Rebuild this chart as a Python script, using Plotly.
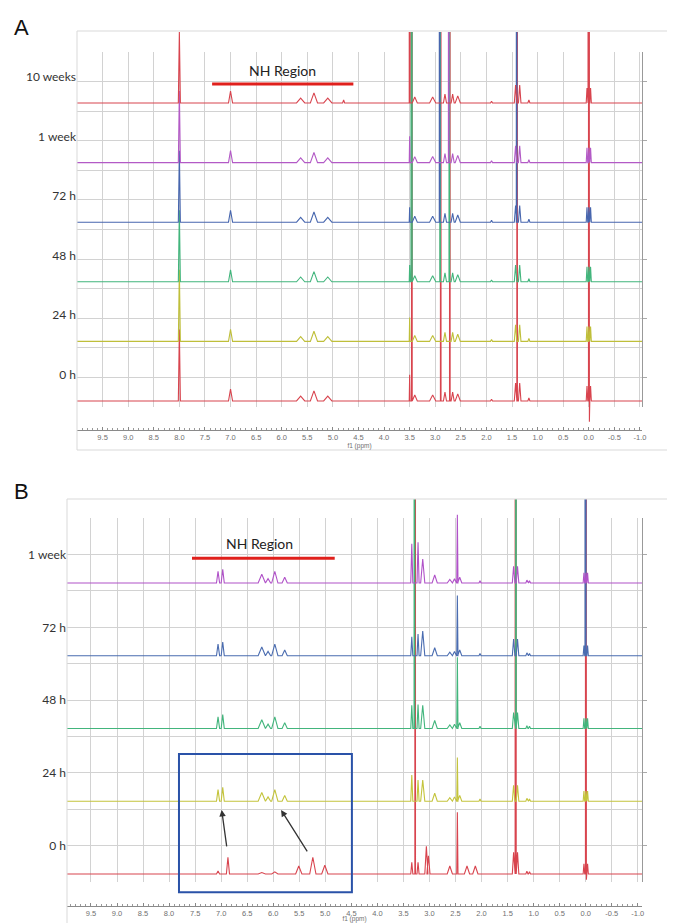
import plotly.graph_objects as go

# The page places the figure 8 px from the top-left corner (default body margin),
# so the figure is 8 px smaller and all layout pixel positions are offset by 8.
PAGE_OFF = 8
W, H = 675 - PAGE_OFF, 923 - PAGE_OFF
OFF = 5000  # off-scale (clipped) peak

# ---------------- Panel A data ----------------
A_LABELS = ["0 h", "24 h", "48 h", "72 h", "1 week", "10 weeks"]
A_COLORS = ["#d8444e", "#bfbf3a", "#42b57c", "#4766ae", "#b35ac6", "#d8444e"]
A_PPM = [8.00, 7.00, 5.63, 5.37, 5.10, 4.79, 3.50, 3.468, 3.458, 3.40, 3.05,
         2.915, 2.905, 2.893, 2.81, 2.737, 2.725, 2.715, 2.66, 2.56, 1.90,
         1.43, 1.41, 1.40, 1.35, 1.17, 0.035, 0.008, 0.0, -0.012, -0.035]
A_HALFWIDTH = [0.02, 0.04, 0.08, 0.07, 0.08, 0.02, 0.008, 0.006, 0.006, 0.05, 0.06,
               0.006, 0.006, 0.006, 0.03, 0.006, 0.006, 0.006, 0.03, 0.05, 0.02,
               0.025, 0.006, 0.006, 0.025, 0.02, 0.015, 0.006, 0.006, 0.008, 0.015]
A_0H = [120, 20, 8, 17, 8, 0, 44, 0, OFF, 10, 10, 0, 0, OFF, 15, 0, 0, OFF, 15, 12, 3,
        30, 0, OFF, 30, 5, 25, 0, OFF, -35, 25]
A_24H = [120, 20, 8, 17, 8, 0, 40, 0, 0, 10, 10, 0, 0, 0, 15, 0, 0, 0, 15, 12, 3,
         28, 0, 0, 28, 5, 25, 0, 25, 0, 25]
A_48H = [120, 20, 8, 17, 8, 0, 28, OFF, 0, 10, 10, 0, OFF, 0, 15, 0, OFF, 0, 15, 12, 3,
         28, 0, 0, 28, 5, 25, 0, 25, 0, 25]
A_72H = [120, 20, 8, 17, 8, 0, 25, 0, 0, 10, 10, OFF, 0, 0, 15, 0, 0, 0, 15, 12, 3,
         28, OFF, 0, 28, 5, 25, 0, 25, 0, 25]
A_1WK = [120, 20, 8, 17, 8, 0, 44, 0, 0, 10, 10, 0, 0, 0, 15, OFF, 0, 0, 15, 12, 3,
         28, 0, 0, 28, 5, 25, 0, 25, 0, 25]
A_10WK = [120, 20, 8, 17, 8, 5, OFF, 0, 0, 10, 10, 0, 0, 0, 15, 0, 0, 0, 15, 12, 3,
          30, 0, 0, 30, 5, 25, OFF, 25, 0, 25]
A_SPECTRA = [A_0H, A_24H, A_48H, A_72H, A_1WK, A_10WK]
A_LABEL_LIFT = 44
A_NH_REGION = (7.36, 4.60)

# ---------------- Panel B data ----------------
B_LABELS = ["0 h", "24 h", "48 h", "72 h", "1 week"]
B_COLORS = ["#d8444e", "#c4c43c", "#42b57c", "#4a6cb0", "#b052c8"]
B_PPM = [7.06, 6.97, 6.87, 6.22, 6.10, 5.97, 5.78, 5.51, 5.24, 5.01,
         3.34, 3.29, 3.275, 3.22, 3.13, 3.06, 3.02, 2.90, 2.61, 2.52, 2.465, 2.42,
         2.28, 2.12, 2.03, 1.385, 1.35, 1.34, 1.31, 1.13, 1.08,
         0.035, 0.008, 0.0, -0.012, -0.035]
B_HALFWIDTH = [0.03, 0.03, 0.03, 0.07, 0.05, 0.06, 0.05, 0.06, 0.06, 0.06,
               0.02, 0.006, 0.006, 0.02, 0.04, 0.03, 0.03, 0.05, 0.05, 0.04, 0.012, 0.04,
               0.05, 0.05, 0.02, 0.025, 0.006, 0.006, 0.025, 0.02, 0.02,
               0.015, 0.006, 0.006, 0.008, 0.015]
B_0H = [4, 0, 23, 2, 0, 3, 0, 11, 23, 12,
        16, 0, OFF, 16, 0, 38, 25, 0, 11, 0, 85, 0,
        11, 11, 0, 30, OFF, 0, 30, 4, 3,
        14, 0, OFF, -8, 14]
B_24H = [16, 19, 0, 12, 6, 16, 8, 0, 0, 0,
         36, 0, 0, 29, 29, 0, 0, 11, 5, 6, 60, 8,
         0, 0, 3, 22, 0, 0, 22, 4, 3,
         14, 0, 14, 0, 14]
B_48H = [16, 19, 0, 12, 6, 16, 8, 0, 0, 0,
         32, OFF, 0, 33, 32, 0, 0, 11, 5, 6, 98, 8,
         0, 0, 3, 22, 0, OFF, 22, 4, 3,
         14, 0, 14, 0, 14]
B_72H = [16, 19, 0, 12, 6, 16, 8, 0, 0, 0,
         26, 0, 0, 30, 34, 0, 0, 11, 5, 6, 83, 8,
         0, 0, 3, 23, 0, 0, 23, 4, 3,
         14, OFF, 14, 0, 14]
B_1WK = [16, 19, 0, 12, 6, 16, 8, 0, 0, 0,
         54, 0, 0, 56, 33, 0, 0, 11, 5, 6, 94, 8,
         0, 0, 3, 23, 0, 0, 23, 4, 3,
         14, 0, 14, 0, 14]
B_SPECTRA = [B_0H, B_24H, B_48H, B_72H, B_1WK]
B_LABEL_LIFT = 39
B_NH_REGION = (7.56, 4.82)
B_BOX = (7.81, 4.49, -25, 165)
B_ARROWS = [((6.89, 36), (6.99, 88)), ((5.33, 29), (5.85, 88))]

TICKS = [9.5, 9.0, 8.5, 8.0, 7.5, 7.0, 6.5, 6.0, 5.5, 5.0, 4.5, 4.0, 3.5, 3.0,
         2.5, 2.0, 1.5, 1.0, 0.5, 0.0, -0.5, -1.0]
TICK_TEXT = ["%.1f" % t for t in TICKS]
ROW_STEP = 100


def px(x):
    return (x - PAGE_OFF) / W


def py(y):
    return 1 - (y - PAGE_OFF) / H


def build(ppm, hw, heights, offset, xr):
    xs, ys = [xr[0]], [offset]
    for p, w, h in zip(ppm, hw, heights):
        if h == 0:
            continue
        xs += [p + w, p, p - w]
        ys += [offset, offset + h, offset]
    xs.append(xr[1])
    ys.append(offset)
    return xs, ys


fig = go.Figure()

A_XR = [10.0, -1.04]
B_XR = [9.96, -1.08]

fig.add_trace(go.Scatter(x=[None], y=[None], xaxis="x", yaxis="y", showlegend=False, hoverinfo="skip"))
for i, h in enumerate(A_SPECTRA):
    xs, ys = build(A_PPM, A_HALFWIDTH, h, i * ROW_STEP, A_XR)
    fig.add_trace(go.Scatter(x=xs, y=ys, mode="lines", xaxis="x2", yaxis="y2",
                             line=dict(color=A_COLORS[i], width=1.1),
                             showlegend=False, hoverinfo="skip"))
fig.add_trace(go.Scatter(x=[None], y=[None], xaxis="x3", yaxis="y3", showlegend=False, hoverinfo="skip"))
for i, h in enumerate(B_SPECTRA):
    xs, ys = build(B_PPM, B_HALFWIDTH, h, i * ROW_STEP, B_XR)
    fig.add_trace(go.Scatter(x=xs, y=ys, mode="lines", xaxis="x4", yaxis="y4",
                             line=dict(color=B_COLORS[i], width=1.1),
                             showlegend=False, hoverinfo="skip"))

GRID = "#d2d2d2"


def grid_axes(xdom, ydom, xr, nrows):
    xa = dict(domain=xdom, range=xr, tickmode="linear", tick0=0, dtick=0.5,
              showgrid=True, gridcolor=GRID, gridwidth=1, showticklabels=False,
              ticks="", zeroline=False, showline=False, fixedrange=True, automargin=False)
    ya = dict(domain=ydom, range=[0, nrows], tickvals=list(range(1, nrows, 2)),
              showgrid=True, gridcolor=GRID, gridwidth=1,
              minor=dict(dtick=1, tick0=0, showgrid=True, gridcolor=GRID, gridwidth=1),
              side="right", ticks="outside", ticklen=4, tickcolor="#aaa",
              showline=True, linecolor="#999", linewidth=1.2,
              showticklabels=False, zeroline=False, fixedrange=True, automargin=False)
    return xa, ya


def data_axes(xdom, ydom, xr, yr, labels, lift):
    xa = dict(domain=xdom, range=xr, tickmode="array", tickvals=TICKS, ticktext=TICK_TEXT,
              ticks="inside", ticklen=3, tickcolor="#888",
              minor=dict(ticks="inside", ticklen=2, tickcolor="#999", dtick=0.1, tick0=0, showgrid=False),
              showline=True, linecolor="#8a8a8a", linewidth=1,
              showgrid=False, zeroline=False,
              tickfont=dict(family="Liberation Sans, Arial", size=7.5, color="#707070"),
              title=dict(text="f1 (ppm)", font=dict(family="Liberation Sans, Arial", size=6.5, color="#707070"),
                         standoff=2),
              fixedrange=True, automargin=False)
    ya = dict(domain=ydom, range=yr, tickmode="array",
              tickvals=[i * ROW_STEP + lift for i in range(len(labels))], ticktext=labels,
              showgrid=False, zeroline=False, showline=False, ticks="", ticklen=0,
              tickfont=dict(family="Lato, Open Sans, sans-serif", size=12, color="#333"),
              fixedrange=True, automargin=False)
    return xa, ya


gxA, gyA = grid_axes([px(77), px(642)], [py(407), py(52)], A_XR, 12)
dxA, dyA = data_axes([px(77), px(642)], [py(430), py(32)], A_XR, [-48.7, 619.1], A_LABELS, A_LABEL_LIFT)
gxB, gyB = grid_axes([px(67), px(642)], [py(882), py(518)], B_XR, 10)
dxB, dyB = data_axes([px(67), px(642)], [py(906), py(499)], B_XR, [-44.0, 515.5], B_LABELS, B_LABEL_LIFT)

gxA["anchor"] = "y"; gyA["anchor"] = "x"
dxA["anchor"] = "y2"; dyA["anchor"] = "x2"
gxB["anchor"] = "y3"; gyB["anchor"] = "x3"
dxB["anchor"] = "y4"; dyB["anchor"] = "x4"

shapes = []
FRAME = "#d9d9d9"
for (x0, y0, x1, y1) in [(77, 31, 675, 31), (77, 31, 77, 450), (77, 450, 675, 450),
                         (67, 499, 675, 499), (67, 499, 67, 923)]:
    shapes.append(dict(type="line", xref="paper", yref="paper", x0=px(x0), y0=py(y0),
                       x1=px(x1), y1=py(y1), line=dict(color=FRAME, width=1)))
shapes.append(dict(type="line", xref="x2", yref="y2", x0=A_NH_REGION[0], x1=A_NH_REGION[1],
                   y0=532, y1=532, line=dict(color="#e0201c", width=3)))
shapes.append(dict(type="line", xref="x4", yref="y4", x0=B_NH_REGION[0], x1=B_NH_REGION[1],
                   y0=434, y1=434, line=dict(color="#e0201c", width=3)))
shapes.append(dict(type="rect", xref="x4", yref="y4", x0=B_BOX[0], x1=B_BOX[1],
                   y0=B_BOX[2], y1=B_BOX[3], line=dict(color="#2a52a8", width=2),
                   fillcolor="rgba(0,0,0,0)"))

annotations = [
    dict(text="A", xref="paper", yref="paper", x=px(12), y=py(27), xanchor="left", yanchor="middle",
         showarrow=False, font=dict(family="Liberation Sans, Arial", size=22, color="#111")),
    dict(text="B", xref="paper", yref="paper", x=px(12), y=py(491), xanchor="left", yanchor="middle",
         showarrow=False, font=dict(family="Liberation Sans, Arial", size=22, color="#111")),
    dict(text="NH Region", xref="x2", yref="y2", x=sum(A_NH_REGION) / 2, y=555, showarrow=False,
         font=dict(family="Lato, Open Sans, sans-serif", size=14, color="#222")),
    dict(text="NH Region", xref="x4", yref="y4", x=sum(B_NH_REGION) / 2 + 0.07, y=455, showarrow=False,
         font=dict(family="Lato, Open Sans, sans-serif", size=14, color="#222")),
]
for (tail, tip) in B_ARROWS:
    annotations.append(dict(text="", xref="x4", yref="y4", x=tip[0], y=tip[1],
                            axref="x4", ayref="y4", ax=tail[0], ay=tail[1],
                            showarrow=True, arrowhead=2, arrowsize=1, arrowwidth=1.3,
                            arrowcolor="#333"))

fig.update_layout(
    width=W, height=H, autosize=False,
    margin=dict(l=0, r=0, t=0, b=0),
    paper_bgcolor="white", plot_bgcolor="rgba(0,0,0,0)",
    showlegend=False,
    xaxis=gxA, yaxis=gyA, xaxis2=dxA, yaxis2=dyA,
    xaxis3=gxB, yaxis3=gyB, xaxis4=dxB, yaxis4=dyB,
    shapes=shapes, annotations=annotations,
)

fig.write_html("out.html")
